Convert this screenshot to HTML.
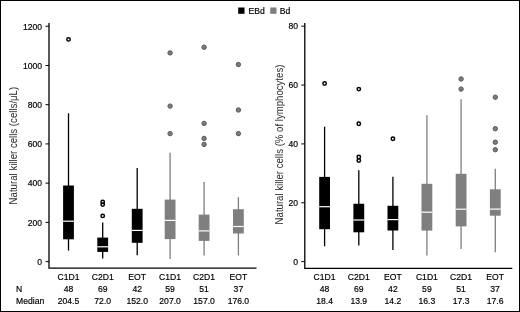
<!DOCTYPE html>
<html><head><meta charset="utf-8"><style>
html,body{margin:0;padding:0;background:#fff;}
svg{display:block;font-family:"Liberation Sans",sans-serif;filter:grayscale(1);}
text{stroke:#000;stroke-width:0.18px;}
</style></head><body>
<svg width="520" height="312" viewBox="0 0 520 312" fill="#000">
<rect x="0.5" y="0.5" width="519" height="311" fill="#fff" stroke="#000" stroke-width="1"/>
<rect x="238.2" y="7.5" width="6.3" height="6.3" fill="#000"/>
<text x="248.6" y="13.7" font-size="8.6">EBd</text>
<rect x="270.2" y="7.5" width="6.3" height="6.3" fill="#7f7f7f"/>
<text x="279.8" y="13.7" font-size="8.6">Bd</text>
<path d="M49,23 V268.2 H256.5" fill="none" stroke="#000" stroke-width="1.3"/>
<line x1="45.5" x2="49" y1="261.60" y2="261.60" stroke="#000" stroke-width="1"/>
<text x="42.1" y="264.90" font-size="8.6" text-anchor="end">0</text>
<line x1="45.5" x2="49" y1="222.37" y2="222.37" stroke="#000" stroke-width="1"/>
<text x="42.1" y="225.67" font-size="8.6" text-anchor="end">200</text>
<line x1="45.5" x2="49" y1="183.15" y2="183.15" stroke="#000" stroke-width="1"/>
<text x="42.1" y="186.45" font-size="8.6" text-anchor="end">400</text>
<line x1="45.5" x2="49" y1="143.92" y2="143.92" stroke="#000" stroke-width="1"/>
<text x="42.1" y="147.22" font-size="8.6" text-anchor="end">600</text>
<line x1="45.5" x2="49" y1="104.70" y2="104.70" stroke="#000" stroke-width="1"/>
<text x="42.1" y="108.00" font-size="8.6" text-anchor="end">800</text>
<line x1="45.5" x2="49" y1="65.47" y2="65.47" stroke="#000" stroke-width="1"/>
<text x="42.1" y="68.77" font-size="8.6" text-anchor="end">1000</text>
<line x1="45.5" x2="49" y1="26.24" y2="26.24" stroke="#000" stroke-width="1"/>
<text x="42.1" y="29.54" font-size="8.6" text-anchor="end">1200</text>
<path d="M304.8,23 V268.4 H512.3" fill="none" stroke="#000" stroke-width="1.3"/>
<line x1="301.3" x2="304.8" y1="261.60" y2="261.60" stroke="#000" stroke-width="1"/>
<text x="298.1" y="264.60" font-size="8.6" text-anchor="end">0</text>
<line x1="301.3" x2="304.8" y1="202.75" y2="202.75" stroke="#000" stroke-width="1"/>
<text x="298.1" y="205.75" font-size="8.6" text-anchor="end">20</text>
<line x1="301.3" x2="304.8" y1="143.90" y2="143.90" stroke="#000" stroke-width="1"/>
<text x="298.1" y="146.90" font-size="8.6" text-anchor="end">40</text>
<line x1="301.3" x2="304.8" y1="85.05" y2="85.05" stroke="#000" stroke-width="1"/>
<text x="298.1" y="88.05" font-size="8.6" text-anchor="end">60</text>
<line x1="301.3" x2="304.8" y1="26.20" y2="26.20" stroke="#000" stroke-width="1"/>
<text x="298.1" y="29.20" font-size="8.6" text-anchor="end">80</text>
<text transform="translate(16.8,204.4) rotate(-90)" style="stroke-width:0" fill="#2a2a2a" font-size="11.6" textLength="117.6" lengthAdjust="spacingAndGlyphs">Natural killer cells (cells/μL)</text>
<text transform="translate(283.1,224.4) rotate(-90)" style="stroke-width:0" fill="#2a2a2a" font-size="11.6" textLength="159.8" lengthAdjust="spacingAndGlyphs">Natural killer cells (% of lymphocytes)</text>
<line x1="68.5" x2="68.5" y1="113.3" y2="250.6" stroke="#000" stroke-width="1.3"/>
<rect x="63.10" y="185.5" width="10.8" height="53.80" fill="#000"/>
<line x1="63.10" x2="73.90" y1="221.2" y2="221.2" stroke="#fff" stroke-width="1.2"/>
<circle cx="68.5" cy="39.4" r="1.7" fill="none" stroke="#000" stroke-width="1.5"/>
<line x1="102.7" x2="102.7" y1="222.4" y2="258.6" stroke="#000" stroke-width="1.3"/>
<rect x="97.30" y="237.6" width="10.8" height="14.30" fill="#000"/>
<line x1="97.30" x2="108.10" y1="246.8" y2="246.8" stroke="#fff" stroke-width="1.2"/>
<circle cx="102.7" cy="201.9" r="1.7" fill="none" stroke="#000" stroke-width="1.5"/>
<circle cx="102.7" cy="204.6" r="1.7" fill="none" stroke="#000" stroke-width="1.5"/>
<circle cx="102.7" cy="215.9" r="1.7" fill="none" stroke="#000" stroke-width="1.5"/>
<line x1="137.2" x2="137.2" y1="167.9" y2="255.2" stroke="#000" stroke-width="1.3"/>
<rect x="131.80" y="208.8" width="10.8" height="34.00" fill="#000"/>
<line x1="131.80" x2="142.60" y1="230.4" y2="230.4" stroke="#fff" stroke-width="1.2"/>
<line x1="170.1" x2="170.1" y1="152.7" y2="259.0" stroke="#7f7f7f" stroke-width="1.3"/>
<rect x="164.70" y="199.6" width="10.8" height="39.50" fill="#7f7f7f"/>
<line x1="164.70" x2="175.50" y1="220.4" y2="220.4" stroke="#fff" stroke-width="1.2"/>
<circle cx="170.1" cy="52.9" r="2.2" fill="#7c7c7c" stroke="#595959" stroke-width="1.0"/>
<circle cx="170.1" cy="106.1" r="2.2" fill="#7c7c7c" stroke="#595959" stroke-width="1.0"/>
<circle cx="170.1" cy="133.6" r="2.2" fill="#7c7c7c" stroke="#595959" stroke-width="1.0"/>
<line x1="204.1" x2="204.1" y1="181.9" y2="255.5" stroke="#7f7f7f" stroke-width="1.3"/>
<rect x="198.70" y="214.6" width="10.8" height="26.30" fill="#7f7f7f"/>
<line x1="198.70" x2="209.50" y1="230.9" y2="230.9" stroke="#fff" stroke-width="1.2"/>
<circle cx="204.1" cy="47.2" r="2.2" fill="#7c7c7c" stroke="#595959" stroke-width="1.0"/>
<circle cx="204.1" cy="123.4" r="2.2" fill="#7c7c7c" stroke="#595959" stroke-width="1.0"/>
<circle cx="204.1" cy="138.4" r="2.2" fill="#7c7c7c" stroke="#595959" stroke-width="1.0"/>
<circle cx="204.1" cy="144.4" r="2.2" fill="#7c7c7c" stroke="#595959" stroke-width="1.0"/>
<line x1="238.4" x2="238.4" y1="197.2" y2="255.4" stroke="#7f7f7f" stroke-width="1.3"/>
<rect x="233.00" y="209.2" width="10.8" height="24.30" fill="#7f7f7f"/>
<line x1="233.00" x2="243.80" y1="226.5" y2="226.5" stroke="#fff" stroke-width="1.2"/>
<circle cx="238.4" cy="64.5" r="2.2" fill="#7c7c7c" stroke="#595959" stroke-width="1.0"/>
<circle cx="238.4" cy="110.0" r="2.2" fill="#7c7c7c" stroke="#595959" stroke-width="1.0"/>
<circle cx="238.4" cy="133.6" r="2.2" fill="#7c7c7c" stroke="#595959" stroke-width="1.0"/>
<line x1="324.6" x2="324.6" y1="126.7" y2="246.3" stroke="#000" stroke-width="1.3"/>
<rect x="319.20" y="176.9" width="10.8" height="52.30" fill="#000"/>
<line x1="319.20" x2="330.00" y1="206.7" y2="206.7" stroke="#fff" stroke-width="1.2"/>
<circle cx="324.6" cy="83.5" r="1.7" fill="none" stroke="#000" stroke-width="1.5"/>
<line x1="358.8" x2="358.8" y1="170.3" y2="245.6" stroke="#000" stroke-width="1.3"/>
<rect x="353.40" y="203.75" width="10.8" height="28.55" fill="#000"/>
<line x1="353.40" x2="364.20" y1="220.0" y2="220.0" stroke="#fff" stroke-width="1.2"/>
<circle cx="358.8" cy="89.1" r="1.7" fill="none" stroke="#000" stroke-width="1.5"/>
<circle cx="358.8" cy="123.7" r="1.7" fill="none" stroke="#000" stroke-width="1.5"/>
<circle cx="358.8" cy="157.0" r="1.7" fill="none" stroke="#000" stroke-width="1.5"/>
<circle cx="358.8" cy="160.5" r="1.7" fill="none" stroke="#000" stroke-width="1.5"/>
<line x1="392.9" x2="392.9" y1="176.7" y2="250.0" stroke="#000" stroke-width="1.3"/>
<rect x="387.50" y="205.8" width="10.8" height="24.70" fill="#000"/>
<line x1="387.50" x2="398.30" y1="219.6" y2="219.6" stroke="#fff" stroke-width="1.2"/>
<circle cx="392.9" cy="138.7" r="1.7" fill="none" stroke="#000" stroke-width="1.5"/>
<line x1="426.9" x2="426.9" y1="115.3" y2="255.6" stroke="#7f7f7f" stroke-width="1.3"/>
<rect x="421.50" y="183.8" width="10.8" height="46.80" fill="#7f7f7f"/>
<line x1="421.50" x2="432.30" y1="212.2" y2="212.2" stroke="#fff" stroke-width="1.2"/>
<line x1="461.1" x2="461.1" y1="99.2" y2="249.0" stroke="#7f7f7f" stroke-width="1.3"/>
<rect x="455.70" y="173.8" width="10.8" height="52.60" fill="#7f7f7f"/>
<line x1="455.70" x2="466.50" y1="209.2" y2="209.2" stroke="#fff" stroke-width="1.2"/>
<circle cx="461.1" cy="79.0" r="2.2" fill="#7c7c7c" stroke="#595959" stroke-width="1.0"/>
<circle cx="461.1" cy="89.1" r="2.2" fill="#7c7c7c" stroke="#595959" stroke-width="1.0"/>
<line x1="495.3" x2="495.3" y1="168.8" y2="252.3" stroke="#7f7f7f" stroke-width="1.3"/>
<rect x="489.90" y="189.3" width="10.8" height="26.40" fill="#7f7f7f"/>
<line x1="489.90" x2="500.70" y1="209.1" y2="209.1" stroke="#fff" stroke-width="1.2"/>
<circle cx="495.3" cy="97.2" r="2.2" fill="#7c7c7c" stroke="#595959" stroke-width="1.0"/>
<circle cx="495.3" cy="128.7" r="2.2" fill="#7c7c7c" stroke="#595959" stroke-width="1.0"/>
<circle cx="495.3" cy="142.2" r="2.2" fill="#7c7c7c" stroke="#595959" stroke-width="1.0"/>
<circle cx="495.3" cy="149.7" r="2.2" fill="#7c7c7c" stroke="#595959" stroke-width="1.0"/>
<text x="68.5" y="279.8" font-size="8.6" text-anchor="middle">C1D1</text>
<text x="68.5" y="291.9" font-size="8.6" text-anchor="middle">48</text>
<text x="68.5" y="304.2" font-size="8.6" text-anchor="middle">204.5</text>
<text x="102.7" y="279.8" font-size="8.6" text-anchor="middle">C2D1</text>
<text x="102.7" y="291.9" font-size="8.6" text-anchor="middle">69</text>
<text x="102.7" y="304.2" font-size="8.6" text-anchor="middle">72.0</text>
<text x="137.2" y="279.8" font-size="8.6" text-anchor="middle">EOT</text>
<text x="137.2" y="291.9" font-size="8.6" text-anchor="middle">42</text>
<text x="137.2" y="304.2" font-size="8.6" text-anchor="middle">152.0</text>
<text x="170.1" y="279.8" font-size="8.6" text-anchor="middle">C1D1</text>
<text x="170.1" y="291.9" font-size="8.6" text-anchor="middle">59</text>
<text x="170.1" y="304.2" font-size="8.6" text-anchor="middle">207.0</text>
<text x="204.1" y="279.8" font-size="8.6" text-anchor="middle">C2D1</text>
<text x="204.1" y="291.9" font-size="8.6" text-anchor="middle">51</text>
<text x="204.1" y="304.2" font-size="8.6" text-anchor="middle">157.0</text>
<text x="238.4" y="279.8" font-size="8.6" text-anchor="middle">EOT</text>
<text x="238.4" y="291.9" font-size="8.6" text-anchor="middle">37</text>
<text x="238.4" y="304.2" font-size="8.6" text-anchor="middle">176.0</text>
<text x="324.6" y="279.8" font-size="8.6" text-anchor="middle">C1D1</text>
<text x="324.6" y="291.9" font-size="8.6" text-anchor="middle">48</text>
<text x="324.6" y="304.2" font-size="8.6" text-anchor="middle">18.4</text>
<text x="358.8" y="279.8" font-size="8.6" text-anchor="middle">C2D1</text>
<text x="358.8" y="291.9" font-size="8.6" text-anchor="middle">69</text>
<text x="358.8" y="304.2" font-size="8.6" text-anchor="middle">13.9</text>
<text x="392.9" y="279.8" font-size="8.6" text-anchor="middle">EOT</text>
<text x="392.9" y="291.9" font-size="8.6" text-anchor="middle">42</text>
<text x="392.9" y="304.2" font-size="8.6" text-anchor="middle">14.2</text>
<text x="426.9" y="279.8" font-size="8.6" text-anchor="middle">C1D1</text>
<text x="426.9" y="291.9" font-size="8.6" text-anchor="middle">59</text>
<text x="426.9" y="304.2" font-size="8.6" text-anchor="middle">16.3</text>
<text x="461.1" y="279.8" font-size="8.6" text-anchor="middle">C2D1</text>
<text x="461.1" y="291.9" font-size="8.6" text-anchor="middle">51</text>
<text x="461.1" y="304.2" font-size="8.6" text-anchor="middle">17.3</text>
<text x="495.1" y="279.8" font-size="8.6" text-anchor="middle">EOT</text>
<text x="495.1" y="291.9" font-size="8.6" text-anchor="middle">37</text>
<text x="495.1" y="304.2" font-size="8.6" text-anchor="middle">17.6</text>
<text x="16" y="291.9" font-size="8.6">N</text>
<text x="16" y="304.2" font-size="8.6">Median</text>
</svg>
</body></html>
